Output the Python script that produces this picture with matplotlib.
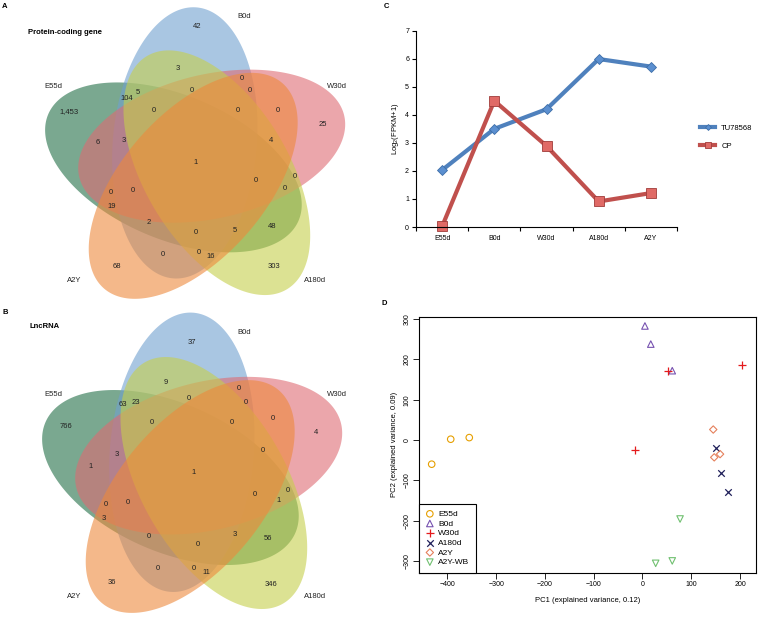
import numpy as np
import matplotlib
matplotlib.use('Agg')
import matplotlib.pyplot as plt

plt.rcParams['font.family'] = ['Liberation Sans', 'DejaVu Sans']
plt.rcParams['mathtext.fontset'] = 'custom'
plt.rcParams['mathtext.rm'] = 'Liberation Sans'
plt.rcParams['mathtext.it'] = 'Liberation Sans:italic'

# ---- Venn data (regions in the same order for both panels)
protein_counts = [42, 3, 0, 0, 5, 104, 0, 1453, 0, 0, 0, 25, 6, 3, 4, 1,
                  0, 0, 0, 0, 0, 19, 2, 0, 5, 48, 0, 0, 16, 68, 303]
lnc_counts = [37, 9, 0, 0, 23, 63, 0, 766, 0, 0, 0, 4, 1, 3, 0, 1,
              0, 0, 1, 0, 0, 3, 0, 0, 3, 56, 0, 0, 11, 36, 346]
set_names = ['B0d', 'E55d', 'A2Y', 'A180d', 'W30d']

# ---- line chart data
stages = ['E55d', 'B0d', 'W30d', 'A180d', 'A2Y']
tu78568 = [2.03, 3.50, 4.20, 5.99, 5.72]
cp = [0.02, 4.50, 2.89, 0.91, 1.21]

# ---- PCA data
groups = ['E55d', 'B0d', 'W30d', 'A180d', 'A2Y', 'A2Y-WB']
pc1 = [[-432, -393, -355], [5, 17, 61], [53, 204, -15],
       [151, 160, 175], [145, 147, 159], [77, 61, 27]]
pc2 = [[-60, 2, 6], [283, 238, 172], [172, 185, -26],
       [-21, -81, -128], [26, -43, -35], [-196, -300, -306]]

# label positions (pixels) for the Venn regions
pos_a = [(197, 27), (178, 68), (242, 79), (250, 90), (138, 92), (127, 98), (192, 91),
         (69, 112), (154, 111), (238, 111), (278, 110), (323, 124), (98, 142), (124, 140),
         (271, 141), (196, 163), (256, 180), (295, 177), (285, 188), (111, 193), (133, 191),
         (112, 207), (149, 223), (196, 232), (235, 230), (272, 227), (163, 255), (199, 253),
         (211, 257), (117, 267), (274, 267)]
pos_b = [(192, 342), (166, 382), (239, 389), (246, 402), (136, 403), (123, 405), (189, 399),
         (66, 427), (152, 422), (232, 423), (273, 419), (316, 432), (91, 466), (117, 455),
         (263, 451), (194, 473), (255, 494), (288, 491), (279, 500), (106, 504), (128, 503),
         (104, 519), (149, 537), (198, 544), (235, 535), (268, 538), (158, 568), (194, 568),
         (206, 572), (112, 583), (271, 584)]
name_pos_a = [(244, 16), (53, 87), (74, 280), (315, 280), (337, 87)]
name_pos_b = [(244, 333), (53, 394), (74, 597), (315, 597), (337, 394)]

venn_colors = ['#70a0cf', '#216e46', '#ed893c', '#c6cf4b', '#de6b73']
draw_order = [1, 0, 4, 3, 2]

fig = plt.figure(figsize=(7.59, 6.18), dpi=100)

axv = fig.add_axes([0, 0, 380 / 759, 1])
axv.set_xlim(0, 380)
axv.set_ylim(618, 0)
axv.axis('off')


def ellipse(k, cx, cy, sy):
    th = np.radians(119 + 72 * k)
    ph = np.radians(85 + 72 * k)
    t = np.linspace(0, 2 * np.pi, 300)
    x = 23 * np.cos(th) + 136 * np.cos(t) * np.cos(ph) - 72 * np.sin(t) * np.sin(ph)
    y = 23 * np.sin(th) + 136 * np.cos(t) * np.sin(ph) + 72 * np.sin(t) * np.cos(ph)
    return cx + x, cy - y * sy


def venn(cx, cy, sy, counts, pos, name_pos, title, tpos, letter, lpos):
    for k in draw_order:
        ex, ey = ellipse(k, cx, cy, sy)
        axv.fill(ex, ey, color=venn_colors[k], alpha=0.6, lw=0)
    for n, (x, y) in zip(counts, pos):
        axv.text(x, y, f'{n:,}', fontsize=5.5, ha='center', va='center', color='#222222')
    for name, (x, y) in zip(set_names, name_pos):
        axv.text(x, y, name, fontsize=5.5, ha='center', va='center', color='#222222')
    axv.text(tpos[0], tpos[1], title, fontsize=5.5, fontweight='bold', ha='center', va='center')
    axv.text(lpos[0], lpos[1], letter, fontsize=5.5, fontweight='bold', ha='center', va='center')


venn(196, 163, 1.0, protein_counts, pos_a, name_pos_a, 'Protein-coding gene', (65, 33), 'A', (5, 6))
venn(193, 473, 1.03, lnc_counts, pos_b, name_pos_b, 'LncRNA', (45, 326), 'B', (5, 313))

# ---- panel C
axc = fig.add_axes([416 / 759, 1 - 227 / 618, 261 / 759, 196.3 / 618])
x = np.arange(len(stages))
axc.plot(x, tu78568, color='#4f81bd', lw=3, marker='D', ms=5, mfc='#5b8fd0',
         mec='#3d6ea8', mew=0.6, label='TU78568', clip_on=False)
axc.plot(x, cp, color='#c0504d', lw=3, marker='s', ms=6.5, mfc='#e06a66',
         mec='#a03c3a', mew=0.6, label='CP', clip_on=False)
axc.set_xlim(-0.5, 4.5)
axc.set_ylim(0, 7)
axc.set_xticks(x)
axc.set_xticklabels(stages)
axc.set_xticks(np.arange(-0.5, 5, 1), minor=True)
axc.tick_params(axis='x', which='major', length=0, labelsize=5, pad=6)
axc.tick_params(axis='x', which='minor', length=3, width=0.8)
axc.tick_params(axis='y', length=3, width=0.8, labelsize=5, pad=2)
axc.set_yticks(range(8))
for s in ['top', 'right']:
    axc.spines[s].set_visible(False)
for s in ['left', 'bottom']:
    axc.spines[s].set_linewidth(0.8)
axc.set_ylabel(r'Log$_2$(FPKM+1)', fontsize=5.5, labelpad=3)
axc.legend(loc='center left', bbox_to_anchor=(693 / 759, 1 - 137 / 618),
           bbox_transform=fig.transFigure, frameon=False, fontsize=5.5,
           handlelength=2.0, labelspacing=1.4, markerscale=0.6)
fig.text(386 / 759, 1 - 6 / 618, 'C', fontsize=5.5, fontweight='bold', ha='center', va='center')

# ---- panel D
axd = fig.add_axes([419 / 759, 1 - 573 / 618, 336.7 / 759, 256.3 / 618])
markers = ['o', '^', '+', 'x', 'D', 'v']
colors = ['#e69f00', '#7752b0', '#e41a1c', '#1f1f5a', '#e5805c', '#70c070']
sizes = [22, 22, 34, 22, 14, 22]
for g, m, c, s, xs, ys in zip(groups, markers, colors, sizes, pc1, pc2):
    if m in ['+', 'x']:
        axd.scatter(xs, ys, marker=m, color=c, s=s, lw=0.9, label=g)
    else:
        axd.scatter(xs, ys, marker=m, facecolors='none', edgecolors=c, s=s, lw=0.8, label=g)
axd.set_xlim(-458, 232)
axd.set_ylim(-330, 306)
axd.set_xticks(range(-400, 201, 100))
axd.set_yticks(range(-300, 301, 100))
axd.tick_params(axis='both', length=4, width=0.6, labelsize=5, pad=2)
for lab in axd.get_yticklabels():
    lab.set_rotation(90)
    lab.set_va('center')
for s in axd.spines.values():
    s.set_linewidth(0.8)
axd.set_xlabel('PC1 (explained variance, 0.12)', fontsize=5.5, labelpad=6)
axd.set_ylabel('PC2 (explained variance, 0.09)', fontsize=5.5, labelpad=4)
leg = axd.legend(loc='lower left', borderaxespad=0, fancybox=False, edgecolor='black',
                 framealpha=1, fontsize=6, handletextpad=0.5, labelspacing=0.22,
                 handlelength=1.0, borderpad=0.8)
leg.get_frame().set_linewidth(0.8)
fig.text(384 / 759, 1 - 304 / 618, 'D', fontsize=5.5, fontweight='bold', ha='center', va='center')

fig.savefig('out.png', dpi=100)
